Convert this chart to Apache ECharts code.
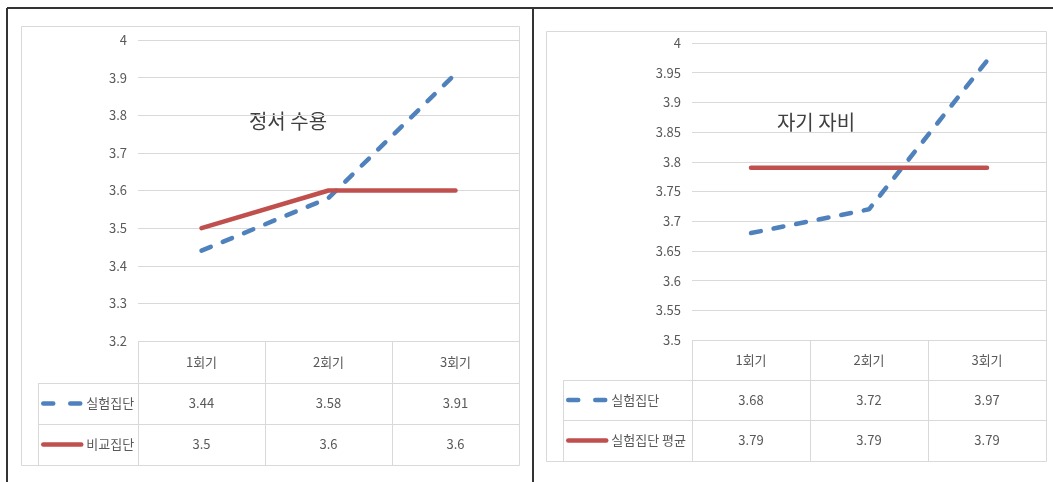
<!DOCTYPE html>
<html>
<head>
<meta charset="utf-8">
<script src="https://cdn.jsdelivr.net/npm/echarts@6/dist/echarts.min.js"></script>
<style>
  html, body { margin: 0; padding: 0; background: #fff; }
  #chart { width: 1053px; height: 482px; }
</style>
</head>
<body>
<div id="chart"></div>
<script>
// Sessions shared by both panels
const sessions = ['1회기', '2회기', '3회기'];

// Panel 1: 정서 수용
const leftTitle = '정서 수용';
const leftNames = ['실험집단', '비교집단'];
const leftExperiment = [3.44, 3.58, 3.91];
const leftComparison = [3.5, 3.6, 3.6];
const leftAxisRange = [3.2, 4, 0.1];   // min, max, interval

// Panel 2: 자기 자비
const rightTitle = '자기 자비';
const rightNames = ['실험집단', '실험집단 평균'];
const rightExperiment = [3.68, 3.72, 3.97];
const rightAverage = [3.79, 3.79, 3.79];
const rightAxisRange = [3.5, 4, 0.05];

const FONT = '"Liberation Sans Narrow", "Noto Sans CJK KR", sans-serif';
const TEXT_GRAY = '#595959';
const GRID_GRAY = '#d9d9d9';
const BLUE = '#4f81bd';
const RED = '#c0504d';

const panels = [
  {
    title: leftTitle, names: leftNames, series: [leftExperiment, leftComparison], range: leftAxisRange,
    plot: { left: 138, top: 40, width: 381, height: 301 },
    rows: [42, 41, 41], tableLeft: 38, legendLeft: 41,
    box: [21, 26, 519, 465], titleAt: [288, 121]
  },
  {
    title: rightTitle, names: rightNames, series: [rightExperiment, rightAverage], range: rightAxisRange,
    plot: { left: 692, top: 43, width: 354, height: 297 },
    rows: [40, 40, 41], tableLeft: 563, legendLeft: 566,
    box: [546, 31, 1046, 461], titleAt: [816, 122]
  }
];

const lineStyles = [
  { color: BLUE, width: 4.5, type: [10, 13], cap: 'round' },
  { color: RED, width: 4.5, type: 'solid', cap: 'round' }
];
// legend keys use a longer gap so the short key shows two dashes
const legendDash = [[10, 17], 'solid'];

const grid = [], xAxis = [], yAxis = [], series = [], legend = [], graphic = [];

function hLine(x1, x2, y, color, w) {
  return { type: 'line', silent: true, shape: { x1: x1, y1: y, x2: x2, y2: y },
           style: { stroke: color, lineWidth: w } };
}
function vLine(x, y1, y2, color, w) {
  return { type: 'line', silent: true, shape: { x1: x, y1: y1, x2: x, y2: y2 },
           style: { stroke: color, lineWidth: w } };
}

panels.forEach(function (p, i) {
  grid.push({ left: p.plot.left, top: p.plot.top, width: p.plot.width, height: p.plot.height });

  const labelBase = { color: TEXT_GRAY, fontSize: 13, fontFamily: FONT, verticalAlign: 'middle', interval: 0 };

  // header row: session names
  xAxis.push({
    gridIndex: i, type: 'category', data: sessions, boundaryGap: true, position: 'bottom',
    axisLine: { show: false }, axisTick: { show: false }, splitLine: { show: false },
    axisLabel: Object.assign({ margin: p.rows[0] / 2 }, labelBase)
  });
  // data table rows: one value per session
  p.series.forEach(function (vals, k) {
    const off = p.rows.slice(0, k + 1).reduce(function (a, b) { return a + b; }, 0);
    xAxis.push({
      gridIndex: i, type: 'category', data: sessions, boundaryGap: true, position: 'bottom', offset: off,
      axisLine: { show: false }, axisTick: { show: false }, splitLine: { show: false },
      axisLabel: Object.assign({
        margin: p.rows[k + 1] / 2,
        formatter: function (v, idx) { return String(vals[idx]); }
      }, labelBase)
    });
  });

  yAxis.push({
    gridIndex: i, type: 'value', min: p.range[0], max: p.range[1], interval: p.range[2],
    axisLine: { show: false }, axisTick: { show: false },
    splitLine: { show: true, lineStyle: { color: GRID_GRAY, width: 1 } },
    axisLabel: { margin: 11, color: TEXT_GRAY, fontSize: 13, fontFamily: FONT }
  });

  p.series.forEach(function (vals, k) {
    series.push({
      name: p.names[k], type: 'line', xAxisIndex: i * 3, yAxisIndex: i,
      data: vals, symbol: 'none', silent: true, z: 2 + k,
      lineStyle: lineStyles[k], itemStyle: { color: lineStyles[k].color }
    });
  });

  const plotBottom = p.plot.top + p.plot.height;
  const plotRight = p.plot.left + p.plot.width;
  const r1 = plotBottom + p.rows[0];
  const r2 = r1 + p.rows[1];
  const tableBottom = r2 + p.rows[2];

  // legend keys sit in the first column of the data table
  legend.push({
    data: p.names.map(function (n, k) { return { name: n, lineStyle: { type: legendDash[k] } }; }),
    orient: 'vertical', left: p.legendLeft,
    top: r1 + p.rows[1] / 2 - 7, itemGap: (p.rows[1] + p.rows[2]) / 2 - 14,
    itemWidth: 38, itemHeight: 14, selectedMode: false, padding: 0,
    itemStyle: { color: 'rgba(0,0,0,0)', borderWidth: 0, opacity: 0 },
    lineStyle: { width: 4.5 },
    textStyle: { color: TEXT_GRAY, fontSize: 13, lineHeight: 14, fontFamily: FONT }
  });

  // chart frame
  graphic.push({ type: 'rect', silent: true,
    shape: { x: p.box[0] + 0.5, y: p.box[1] + 0.5, width: p.box[2] - p.box[0], height: p.box[3] - p.box[1] },
    style: { fill: 'none', stroke: GRID_GRAY, lineWidth: 1 } });

  // data table borders
  for (let c = 0; c <= sessions.length; c++) {
    const x = Math.round(p.plot.left + c * p.plot.width / sessions.length) + 0.5;
    graphic.push(vLine(x, plotBottom, tableBottom, GRID_GRAY, 1));
  }
  graphic.push(vLine(p.tableLeft + 0.5, r1, tableBottom, GRID_GRAY, 1));
  [r1, r2, tableBottom].forEach(function (y) {
    graphic.push(hLine(p.tableLeft, plotRight, y + 0.5, GRID_GRAY, 1));
  });

  // panel title inside the plot
  graphic.push({ type: 'text', silent: true, x: p.titleAt[0], y: p.titleAt[1],
    style: { text: p.title, fontSize: 20, fontFamily: '"Noto Sans CJK KR", sans-serif',
             fill: '#404040', align: 'center', verticalAlign: 'middle' } });
});

// outer frame and divider
graphic.push(hLine(7, 1053, 8, '#333333', 2));
graphic.push(vLine(7, 8, 482, '#333333', 2));
graphic.push(vLine(533, 8, 482, '#333333', 2));

const chart = echarts.init(document.getElementById('chart'), null, { renderer: 'canvas' });
chart.setOption({
  animation: false,
  backgroundColor: '#ffffff',
  grid: grid, xAxis: xAxis, yAxis: yAxis, series: series, legend: legend, graphic: graphic
});
</script>
</body>
</html>
